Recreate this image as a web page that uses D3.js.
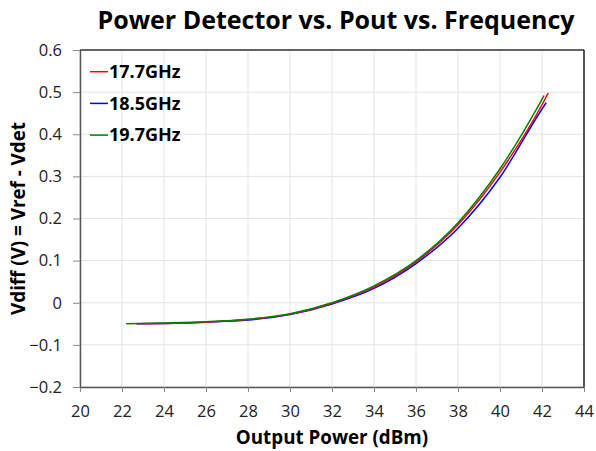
<!DOCTYPE html>
<html>
<head>
<meta charset="utf-8">
<script src="https://cdn.jsdelivr.net/npm/d3@7"></script>
<style>
  body { margin: 0; background: #fff; }
  text { font-family: "Open Sans", "Noto Sans", sans-serif; }
</style>
</head>
<body>
<svg id="chart"></svg>
<script>
var width = 596,
    height = 451;

// series names and colours
var seriesNames = ["17.7GHz", "18.5GHz", "19.7GHz"];
var seriesColors = ["#ff0000", "#0000ff", "#008000"];

// output power (dBm) per series
var xRed   = [22.7, 24, 26, 28, 30, 32, 34, 36, 38, 40, 42, 42.3];
var xBlue  = [22.7, 24, 26, 28, 30, 32, 34, 36, 38, 40, 42, 42.2];
var xGreen = [22.2, 24, 26, 28, 30, 32, 34, 36, 38, 40, 42, 42.1];

// Vdiff (V) per series
var yRed   = [-0.050, -0.049, -0.046, -0.040, -0.027, -0.001, 0.037, 0.097, 0.185, 0.310, 0.470, 0.498];
var yBlue  = [-0.050, -0.049, -0.046, -0.041, -0.028, -0.003, 0.034, 0.093, 0.177, 0.298, 0.460, 0.475];
var yGreen = [-0.050, -0.048, -0.045, -0.039, -0.026,  0.000, 0.040, 0.100, 0.190, 0.318, 0.483, 0.492];

var xTicks = [20, 22, 24, 26, 28, 30, 32, 34, 36, 38, 40, 42, 44];
var yTicks = [-0.2, -0.1, 0, 0.1, 0.2, 0.3, 0.4, 0.5, 0.6];

var margin = {left: 80, right: 12, top: 50, bottom: 64};
var plotW = width - margin.left - margin.right,
    plotH = height - margin.top - margin.bottom;

var svg = d3.select('#chart')
            .attr('width', width)
            .attr('height', height);

var x = d3.scaleLinear().domain([20, 44]).range([0, plotW]);
var y = d3.scaleLinear().domain([-0.2, 0.6]).range([plotH, 0]);

var g = svg.append('g')
      .attr('transform', 'translate(' + margin.left + ',' + margin.top + ')');

// gridlines
g.append('g')
    .selectAll('line')
    .data(xTicks)
    .enter()
    .append('line')
      .attr('x1', d => x(d)).attr('x2', d => x(d))
      .attr('y1', 0).attr('y2', plotH)
      .attr('stroke', '#e3e3e3').attr('stroke-width', 1);

g.append('g')
    .selectAll('line')
    .data(yTicks)
    .enter()
    .append('line')
      .attr('x1', 0).attr('x2', plotW)
      .attr('y1', d => y(d)).attr('y2', d => y(d))
      .attr('stroke', '#e3e3e3').attr('stroke-width', 1);

// axes
var xAxis = g.append('g')
    .attr('transform', 'translate(0,' + plotH + ')')
    .call(d3.axisBottom(x).tickValues(xTicks).tickSize(5).tickSizeOuter(0).tickPadding(13));

var yAxis = g.append('g')
    .call(d3.axisLeft(y).tickValues(yTicks).tickSize(7).tickSizeOuter(0).tickPadding(11)
          .tickFormat(d => Math.abs(d) < 1e-9 ? "0" : d3.format(".1f")(d)));

[xAxis, yAxis].forEach(function(a){
  a.selectAll('text').style('font-size', '16.5px').attr('fill', '#222');
  a.selectAll('line').attr('stroke', '#888');
  a.select('.domain').attr('stroke', '#555').attr('stroke-width', 1.5);
});

// top and right border
g.append('line').attr('x1', 0).attr('x2', plotW).attr('y1', 0).attr('y2', 0)
    .attr('stroke', '#333').attr('stroke-width', 1.5);
g.append('line').attr('x1', plotW).attr('x2', plotW).attr('y1', 0).attr('y2', plotH)
    .attr('stroke', '#222').attr('stroke-width', 1.5);

// lines
var series = [
  {name: seriesNames[0], color: seriesColors[0], xs: xRed,   ys: yRed},
  {name: seriesNames[1], color: seriesColors[1], xs: xBlue,  ys: yBlue},
  {name: seriesNames[2], color: seriesColors[2], xs: xGreen, ys: yGreen}
];

var line = d3.line()
    .x(d => x(d[0]))
    .y(d => y(d[1]))
    .curve(d3.curveMonotoneX);

[1, 0, 2].forEach(function(i){
  var s = series[i];
  g.append('path')
    .datum(d3.zip(s.xs, s.ys))
    .attr('fill', 'none')
    .attr('stroke', s.color)
    .attr('stroke-width', 1.5)
    .attr('d', line);
});

// legend
var legend = g.append('g').attr('transform', 'translate(10,21.7)');
series.forEach(function(s, i){
  var row = legend.append('g').attr('transform', 'translate(0,' + (i * 31.7) + ')');
  row.append('line').attr('x1', 0).attr('x2', 18).attr('y1', 0).attr('y2', 0)
    .attr('stroke', s.color).attr('stroke-width', 1.5);
  row.append('text').attr('x', 19).attr('y', 6.3)
    .style('font-size', '18px').style('font-weight', 'bold')
    .text(s.name);
});

// titles
svg.append('text')
    .attr('x', 336).attr('y', 29)
    .style('font-size', '25px').style('font-weight', 'bold')
    .style('text-anchor', 'middle')
    .text('Power Detector vs. Pout vs. Frequency');

svg.append('text')
    .attr('x', margin.left + plotW / 2).attr('y', 444)
    .style('font-size', '18.8px').style('font-weight', 'bold')
    .style('text-anchor', 'middle')
    .text('Output Power (dBm)');

svg.append('text')
    .attr('transform', 'translate(25,' + (margin.top + plotH / 2) + ') rotate(-90)')
    .style('font-size', '18.8px').style('font-weight', 'bold')
    .style('text-anchor', 'middle')
    .text('Vdiff (V) = Vref - Vdet');
</script>
</body>
</html>
